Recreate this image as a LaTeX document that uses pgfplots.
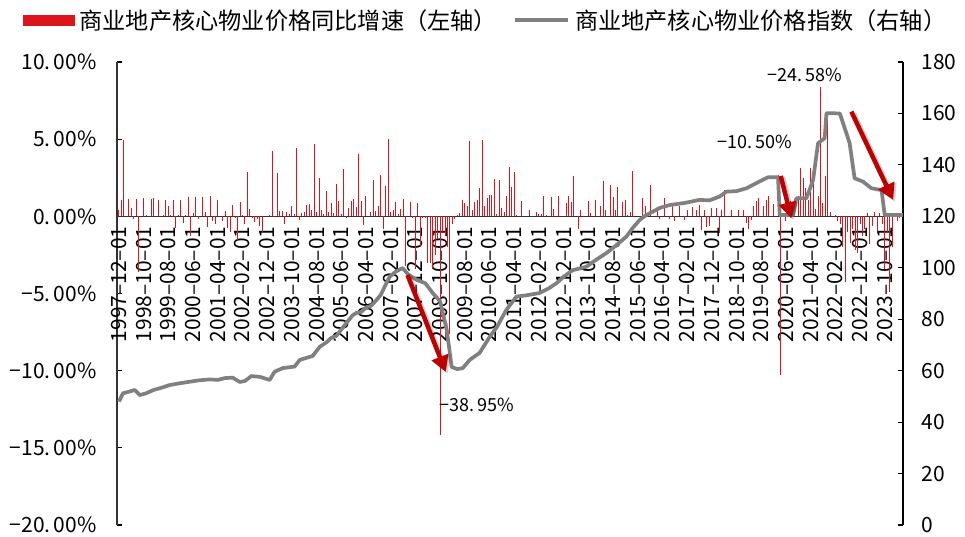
\documentclass[border=0pt]{standalone}
\usepackage{fontspec}
\setmainfont{Noto Sans CJK SC}
\usepackage{pgfplots}
\pgfplotsset{compat=1.18}
\usetikzlibrary{arrows.meta}
\definecolor{barred}{RGB}{222,20,28}
\definecolor{linegray}{RGB}{128,128,128}
\definecolor{arrowred}{RGB}{192,0,0}
\newcommand{\tf}{\fontsize{21}{24}\selectfont}
\newcommand{\pp}{.\kern.15em}
\tikzset{
  arrsh/.style={black, opacity=0.18, line width=5.5pt, -{Triangle[length=17pt,width=18pt]}, transform canvas={xshift=2pt,yshift=-2pt}},
  arr/.style={arrowred, line width=4.5pt, -{Triangle[length=16pt,width=17pt]}}
}
\begin{document}
\begin{tikzpicture}
\path[use as bounding box] (-117pt,-12pt) rectangle (848pt,525pt);
\begin{axis}[
  at={(0pt,0pt)}, anchor=south west, scale only axis,
  width=786pt, height=463pt,
  xmin=-0.8, xmax=317.4, ymin=-20, ymax=10,
  axis x line=middle, axis y line=left,
  axis line style={-, line width=1.3pt, black!80},
  hide obscured x ticks=false, hide obscured y ticks=false,
  xtick={0,10,...,310},
  xticklabels={1997–12–01,1998–10–01,1999–08–01,2000–06–01,2001–04–01,2002–02–01,2002–12–01,2003–10–01,2004–08–01,2005–06–01,2006–04–01,2007–02–01,2007–12–01,2008–10–01,2009–08–01,2010–06–01,2011–04–01,2012–02–01,2012–12–01,2013–10–01,2014–08–01,2015–06–01,2016–04–01,2017–02–01,2017–12–01,2018–10–01,2019–08–01,2020–06–01,2021–04–01,2022–02–01,2022–12–01,2023–10–01},
  xticklabel style={rotate=90, anchor=east, font=\tf, inner xsep=10pt, inner ysep=0pt},
  x tick style={draw=none},
  ytick={-20,-15,-10,-5,0,5,10},
  yticklabels={−20\pp00\%,−15\pp00\%,−10\pp00\%,−5\pp00\%,0\pp00\%,5\pp00\%,10\pp00\%},
  yticklabel style={font=\tf, xshift=-17pt},
  y tick style={line width=1.2pt, black},
  tick align=inside, major tick length=5pt,
]
\addplot[ycomb, barred, line width=1pt, mark=none] coordinates {
(0,0.43)(1,1.08)(2,4.97)(4,1.12)(5,0.54)(6,-0.17)(7,1.12)(8,-3.6)(10,1.19)(11,0.1)
(13,1.14)(14,1.19)(16,1.08)(18,0.1)(19,1.08)(20,0.7)(21,0.1)(22,1.08)(23,-0.76)(24,0.1)
(25,1.08)(26,-0.43)(27,0.1)(28,1.25)(29,-1.3)(30,0.2)(31,1.25)(32,-0.15)(34,1.25)(35,0.3)
(36,-0.7)(37,1.34)(38,-0.32)(39,-0.48)(40,1.04)(42,-0.32)(43,0.35)(44,-0.78)(45,-1.0)(46,0.76)
(47,-0.1)(48,-1.55)(49,0.9)(50,0.1)(51,-0.48)(52,2.9)(53,0.48)(54,-0.1)(55,-0.39)(56,-0.17)
(57,-0.65)(58,-1.04)(61,0.1)(62,4.23)(63,0.04)(64,2.81)(65,0.37)(66,0.37)(67,-0.48)(68,0.28)
(69,0.15)(70,0.7)(71,0.15)(72,4.45)(73,-0.22)(74,0.22)(75,0.26)(76,0.73)(77,0.8)(78,0.43)
(79,4.69)(80,0.3)(81,2.46)(82,0.43)(83,0.13)(84,1.62)(85,0.3)(86,0.86)(87,0.22)(88,2.12)
(89,1.0)(90,0.17)(91,3.07)(92,-0.1)(93,0.54)(94,1.0)(95,1.12)(96,0.58)(97,4.04)(98,1.0)
(99,-0.56)(100,1.3)(102,0.26)(103,2.38)(104,0.37)(105,0.7)(106,2.68)(107,-0.82)(108,1.99)(109,5.03)
(110,0.28)(111,0.39)(112,0.93)(113,0.17)(114,0.5)(115,1.12)(116,-3.2)(118,0.93)(119,-0.1)(120,-3.4)
(121,0.86)(122,-2.0)(123,-0.1)(124,-0.1)(125,-3.0)(126,-3.0)(127,-3.4)(128,-2.5)(129,-1.5)(130,-14.2)
(131,-1.0)(132,-1.3)(133,-2.0)(134,-7.6)(135,-0.5)(136,-0.2)
(137,0.1)(138,0.2)(139,1.08)(140,0.86)(141,0.7)(142,4.9)(143,0.4)(144,0.9)(145,1.04)(146,1.84)
(147,4.97)(148,0.7)(149,1.17)(150,1.4)(151,1.4)(152,2.44)(153,0.17)(154,2.38)(155,0.54)(156,0.3)
(157,1.34)(158,3.17)(159,1.88)(160,2.9)(161,0.06)(163,0.97)(166,0.43)(169,0.3)(170,0.17)(171,0.17)
(172,1.34)(173,0.1)(175,1.25)(176,0.5)(178,1.3)(181,0.86)(182,1.3)(183,0.9)(184,2.64)(186,-0.8)
(187,0.43)(190,0.97)(191,0.22)(193,1.08)(195,0.7)(196,2.27)(197,0.39)(199,2.05)(200,1.25)(201,0.39)
(202,1.88)(204,0.93)(205,1.04)(206,0.1)(207,0.3)(208,2.96)(212,1.17)(213,0.65)(215,2.0)
(218,0.54)(219,-0.2)(221,1.19)(223,-0.2)(224,0.65)(225,-0.32)(227,0.65)(229,-0.26)(230,0.43)(232,0.58)
(234,0.43)(235,0.76)(236,-0.86)(237,0.43)(238,-0.7)(239,-0.6)(240,0.54)(242,0.54)(243,-1.1)(244,0.43)
(245,1.73)(248,0.43)(251,0.43)(253,0.43)(254,-0.43)(255,-0.8)(256,-0.22)(257,0.65)(258,0.97)(259,1.19)
(261,0.65)(262,1.04)(263,1.34)(265,0.8)(267,2.7)(268,-10.3)(269,0.22)(270,-0.3)(272,0.97)(273,0.43)
(275,1.3)(276,3.13)(277,2.48)(278,1.84)(279,1.08)(280,3.1)(281,2.7)(282,0.5)(283,1.3)(284,8.4)
(285,0.86)(286,2.6)(287,6.5)(288,0.3)(290,0.1)(291,-0.3)(292,-0.5)(293,-2.0)(294,-4.26)(295,-1.0)
(296,-1.7)(297,-0.8)(298,-2.2)(299,-2.4)(300,-0.5)(301,-1.3)(302,-0.8)(303,0.2)(304,-1.8)(305,-0.6)
(306,0.3)(307,-1.0)(308,0.2)(309,-0.5)(310,-3.4)(311,-1.0)(312,-4.9)(313,-2.0)(314,0.2)(315,-0.3)
(316,-0.1)
};
\end{axis}
\begin{axis}[
  at={(0pt,0pt)}, anchor=south west, scale only axis,
  width=786pt, height=463pt,
  xmin=-0.8, xmax=317.4, ymin=0, ymax=180,
  axis x line=none, axis y line=right,
  axis line style={-, line width=1.3pt, black},
  ytick={0,20,...,180},
  yticklabel style={font=\tf, xshift=15pt},
  /pgf/number format/assume math mode=true,
  y tick style={line width=1.2pt, black},
  tick align=inside, major tick length=5pt,
  clip=false,
  legend columns=2,
  legend style={draw=none, fill=none, at={(-0.1196,1.0907)}, anchor=west,
    inner sep=0pt, font=\fontsize{23.2}{26}\selectfont,
    /tikz/every odd column/.append style={column sep=3pt},
    /tikz/every even column/.append style={column sep=14pt}},
]
\addlegendimage{legend image code/.code={\fill[barred] (0pt,-5pt) rectangle (51pt,5pt);}}
\addlegendentry{商业地产核心物业价格同比增速（左轴）}
\addplot[linegray, line width=3.7pt, line join=round, mark=none,
  legend image code/.code={\draw[linegray,line width=4pt] (0pt,0pt)--(53pt,0pt);}]
coordinates {
(0,48)(1.6,51.2)(4,51.8)(6.4,52.5)(8.4,50.5)(11,51.2)(14,52.5)(17,53.3)(20.5,54.4)(24,55)(28,55.6)
(32,56.2)(36.7,56.6)(40,56.4)(42.8,57.1)(46,57.3)(48.9,55.6)(51,56)
(53.6,57.9)(57,57.6)(61,56.4)(63,59.6)(66.3,61)(71.1,61.6)(73.2,64.2)(78.4,65.7)(81.3,69.3)
(84,71)(86,72.8)(88,73.5)(90,76)(92,78.5)(94.6,81.5)(96,82.4)(98,82.8)(100,84.5)(102,85.2)
(104.3,87.5)(106,89.5)(108,93.5)(109.6,96.5)(112,98.5)(114.8,99.9)(117,97.5)(120.5,95.3)(124,94)(127,90.2)
(130,87)(132.7,75.8)(134.7,61.4)(137,60.6)(139.2,61)
(142,64.2)(146,66.9)(150.1,73.2)(153,77)(156.8,83.6)(160.9,88.8)(165,89.3)(170.3,90.2)(174,92)(177.1,94)
(180,96.5)(183.7,99.1)(186,99.6)(189.2,100.4)(193,103)
(197.3,105.7)(201,108.5)(205.4,112.1)(208,115.5)(210.8,118.6)(213,120.2)(216.1,121.8)(219,123.3)(223,124.4)
(229,125.2)(235.1,126.4)(239,126.2)(243.2,127.7)(245.9,129.6)(250,129.8)
(254,130.9)(258,132.9)(262.8,135.2)(266.8,135.2)(267.5,120.5)(272.9,120.5)(274.2,127)(278.3,127)
(281,134.1)(283,148.4)(285.7,150.4)(286.4,160.1)(291.8,160)(294.5,152.3)(295.8,148.4)(297.8,134.8)
(301.2,133.5)(304.6,130.9)(308.7,130.2)(310,120.5)(317.3,120.5)
};
\addlegendentry{商业地产核心物业价格指数（右轴）}
\draw[arrsh] (axis cs:116.8,97.2) -- (axis cs:132.3,59.5);
\draw[arr] (axis cs:116.8,97.2) -- (axis cs:132.3,59.5);
\draw[arrsh] (axis cs:267.9,135.7) -- (axis cs:272.2,119.2);
\draw[arr] (axis cs:267.9,135.7) -- (axis cs:272.2,119.2);
\draw[arrsh] (axis cs:296.5,160.7) -- (axis cs:313.4,126.4);
\draw[arr] (axis cs:296.5,160.7) -- (axis cs:313.4,126.4);
\node[font=\fontsize{18}{20}\selectfont] at (axis cs:277.6,174.9) {−24\pp58\%};
\node[font=\fontsize{18}{20}\selectfont] at (axis cs:257.4,148.9) {−10\pp50\%};
\node[font=\fontsize{18}{20}\selectfont, anchor=west, inner sep=0pt] at (axis cs:129.7,46.7) {−38\pp95\%};
\end{axis}
\end{tikzpicture}
\end{document}
